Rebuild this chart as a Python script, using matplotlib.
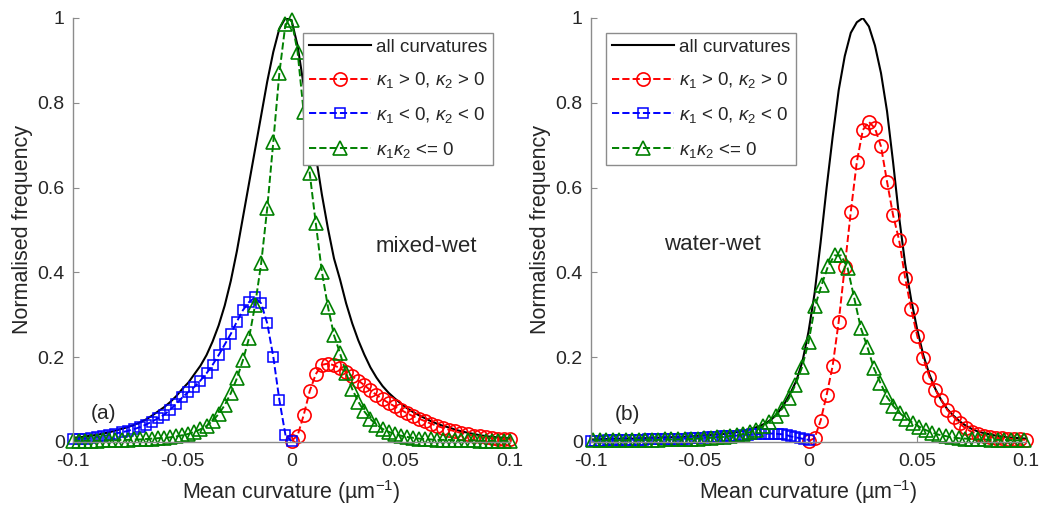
import matplotlib
matplotlib.use('Agg')
import matplotlib.pyplot as plt
import numpy as np

plt.rcParams['font.family'] = ['Liberation Sans', 'DejaVu Sans']
plt.rcParams['mathtext.fontset'] = 'custom'
plt.rcParams['mathtext.rm'] = 'Liberation Sans'
plt.rcParams['mathtext.it'] = 'Liberation Sans:italic'
plt.rcParams['font.size'] = 13.5

# ---- bin centres of the curvature histograms (um^-1) ----
curv = np.linspace(-0.1, 0.1, 73)
curv_pos = curv[36:]
curv_neg = curv[:37]
curv_mix_b = np.linspace(-0.099, 0.099, 67)
curv_neg_b = np.linspace(-0.1, 0.0, 51)

# ---- (a) mixed-wet ----
a_all = [0.010, 0.011, 0.013, 0.015, 0.017, 0.020, 0.023, 0.027, 0.031, 0.035, 0.040,
         0.046, 0.053, 0.062, 0.072, 0.082, 0.094, 0.108, 0.125, 0.140, 0.160, 0.180,
         0.205, 0.237, 0.275, 0.322, 0.380, 0.450, 0.530, 0.610, 0.690, 0.770, 0.850, 0.920, 0.975, 1.0, 0.995,
         0.935, 0.842, 0.754, 0.676, 0.584, 0.504, 0.433, 0.383, 0.327, 0.280, 0.240, 0.206, 0.176, 0.152,
         0.132, 0.116, 0.103, 0.091, 0.080, 0.071, 0.063, 0.056, 0.049, 0.043, 0.038, 0.034, 0.029, 0.025,
         0.022, 0.019, 0.016, 0.014, 0.012, 0.011, 0.010, 0.009]
a_pos = [0.003, 0.015, 0.063, 0.12, 0.16, 0.182, 0.185, 0.181, 0.174, 0.165, 0.155, 0.145, 0.134, 0.122,
         0.111, 0.101, 0.092, 0.084, 0.076, 0.068, 0.061, 0.055, 0.049, 0.043, 0.038, 0.033, 0.029, 0.025,
         0.021, 0.018, 0.015, 0.013, 0.011, 0.009, 0.008, 0.007, 0.006]
a_neg = [0.006, 0.007, 0.008, 0.010, 0.012, 0.014, 0.017, 0.020, 0.023, 0.026, 0.030,
         0.035, 0.041, 0.048, 0.056, 0.064, 0.076, 0.090, 0.105, 0.118, 0.130, 0.145,
         0.162, 0.182, 0.205, 0.230, 0.255, 0.284, 0.311, 0.330, 0.341, 0.327, 0.280, 0.201, 0.099, 0.017, 0.002]
a_mix = [0.003, 0.003, 0.003, 0.003, 0.003, 0.004, 0.004, 0.004, 0.005, 0.005, 0.006,
         0.006, 0.007, 0.008, 0.009, 0.010, 0.011, 0.013, 0.016, 0.019, 0.024, 0.030,
         0.038, 0.050, 0.066, 0.087, 0.115, 0.150, 0.193, 0.245, 0.323, 0.421, 0.551, 0.708, 0.870, 0.985,
         0.995,
         0.92, 0.779, 0.634, 0.516, 0.402, 0.319, 0.252, 0.209, 0.162, 0.125, 0.095, 0.072, 0.054, 0.041,
         0.031, 0.024, 0.019, 0.015, 0.012, 0.010, 0.008, 0.007, 0.006, 0.005, 0.005, 0.005, 0.004, 0.004,
         0.004, 0.004, 0.003, 0.003, 0.003, 0.003, 0.003, 0.003]

# ---- (b) water-wet ----
b_all = [0.006, 0.006, 0.007, 0.007, 0.007, 0.008, 0.008, 0.008, 0.009, 0.009, 0.010,
         0.010, 0.011, 0.011, 0.012, 0.012, 0.013, 0.014, 0.015, 0.016, 0.017, 0.018,
         0.019, 0.021, 0.023, 0.026, 0.029, 0.033, 0.038, 0.045,
         0.055, 0.07, 0.09, 0.115, 0.145, 0.19, 0.26,
         0.35, 0.47, 0.60, 0.72, 0.83, 0.91, 0.965, 0.99, 1.0,
         0.98, 0.935, 0.87, 0.78, 0.66, 0.53, 0.42, 0.335, 0.265, 0.205,
         0.16, 0.125, 0.098, 0.077, 0.062, 0.049, 0.039, 0.031, 0.025, 0.021, 0.018, 0.015, 0.013,
         0.011, 0.010, 0.009, 0.008]
b_pos = [0.002, 0.009, 0.05, 0.111, 0.18, 0.284, 0.413, 0.543, 0.661, 0.736, 0.755, 0.740, 0.697,
         0.614, 0.535, 0.476, 0.387, 0.313, 0.25, 0.197, 0.154, 0.123, 0.099, 0.075, 0.06, 0.044,
         0.032, 0.024, 0.019, 0.015, 0.012, 0.010, 0.009, 0.008, 0.007, 0.006, 0.005]
b_neg = [0.003, 0.003, 0.003, 0.003, 0.004, 0.004, 0.004, 0.004, 0.004, 0.005, 0.005,
         0.005, 0.005, 0.006, 0.006, 0.006, 0.006, 0.007, 0.007, 0.007, 0.008,
         0.008, 0.008, 0.009, 0.009, 0.010, 0.010, 0.011, 0.011, 0.012, 0.013,
         0.013, 0.014, 0.015, 0.015, 0.016, 0.017, 0.018, 0.018, 0.019, 0.019,
         0.020, 0.020, 0.019, 0.018, 0.016, 0.013, 0.011, 0.009, 0.007, 0.005]
b_mix = [0.004, 0.004, 0.004, 0.004, 0.004, 0.004, 0.005, 0.005, 0.005, 0.005, 0.005,
         0.006, 0.006, 0.006, 0.007, 0.007, 0.008, 0.009, 0.010, 0.011, 0.012,
         0.014, 0.016, 0.019, 0.023, 0.029, 0.037, 0.048, 0.062, 0.079, 0.103,
         0.135, 0.176, 0.235, 0.32, 0.37, 0.415, 0.44, 0.44, 0.41, 0.34,
         0.27, 0.225, 0.175, 0.14, 0.107, 0.085, 0.068, 0.055, 0.045, 0.036,
         0.028, 0.022, 0.017, 0.014, 0.011, 0.009, 0.008, 0.007, 0.006, 0.006,
         0.005, 0.005, 0.005, 0.004, 0.004, 0.004]

labels = ['all curvatures',
          r'$\kappa_1$ > 0, $\kappa_2$ > 0',
          r'$\kappa_1$ < 0, $\kappa_2$ < 0',
          r'$\kappa_1\kappa_2$ <= 0']
xticks = [-0.1, -0.05, 0, 0.05, 0.1]
xticklabels = ['-0.1', '-0.05', '0', '0.05', '0.1']
yticks = [0, 0.2, 0.4, 0.6, 0.8, 1]
yticklabels = ['0', '0.2', '0.4', '0.6', '0.8', '1']

GREY = '#8c8c8c'
TXT = '#262626'


def panel(ax, x_all, y_all, x_pos, y_pos, x_neg, y_neg, x_mix, y_mix):
    ax.plot(x_all, y_all, '-', color='black', lw=1.5, label=labels[0])
    ax.plot(x_pos, y_pos, '--', color='red', lw=1.4, marker='o', ms=9.5,
            mfc='none', mew=1.2, label=labels[1], clip_on=False)
    ax.plot(x_neg, y_neg, '--', color='blue', lw=1.4, marker='s', ms=7,
            mfc='none', mew=1.1, label=labels[2], clip_on=False)
    ax.plot(x_mix, y_mix, '--', color='green', lw=1.4, marker='^', ms=9.5,
            mfc='none', mew=1.2, label=labels[3], clip_on=False)
    ax.set_xlim(-0.1, 0.1)
    ax.set_ylim(0, 1)
    ax.set_xticks(xticks)
    ax.set_xticklabels(xticklabels)
    ax.set_yticks(yticks)
    ax.set_yticklabels(yticklabels)
    ax.spines['top'].set_visible(False)
    ax.spines['right'].set_visible(False)
    for s in ['left', 'bottom']:
        ax.spines[s].set_color(GREY)
        ax.spines[s].set_linewidth(1.0)
    ax.tick_params(axis='both', direction='in', length=4, color=GREY,
                   labelcolor=TXT, labelsize=14)
    ax.tick_params(axis='x', pad=8)
    ax.tick_params(axis='y', pad=6)
    ax.set_xlabel('Mean curvature (µm$^{-1}$)', color=TXT, fontsize=15.5, labelpad=6)
    ax.set_ylabel('Normalised frequency', color=TXT, fontsize=15.5, labelpad=3)


fig = plt.figure(figsize=(10.39, 5.09), dpi=100)
ax1 = fig.add_axes([73 / 1039, 67 / 509, 437 / 1039, 424 / 509])
ax2 = fig.add_axes([591 / 1039, 67 / 509, 435 / 1039, 424 / 509])

panel(ax1, curv, a_all, curv_pos, a_pos, curv_neg, a_neg, curv, a_mix)
panel(ax2, curv, b_all, curv_pos, b_pos, curv_neg_b, b_neg, curv_mix_b, b_mix)

leg_kw = dict(fontsize=13.5, handlelength=3.3, handletextpad=0.3, labelspacing=0.78,
              borderpad=0.3, borderaxespad=0, numpoints=1, fancybox=False,
              edgecolor=GREY, framealpha=1)
leg1 = ax1.legend(loc='upper right', bbox_to_anchor=(1 - 17 / 437, 1 - 15 / 424), **leg_kw)
leg2 = ax2.legend(loc='upper left', bbox_to_anchor=(15 / 435, 1 - 15 / 424), **leg_kw)
for leg in [leg1, leg2]:
    leg.get_frame().set_linewidth(1.0)
    for t in leg.get_texts():
        t.set_color(TXT)

ax1.text(0.0385, 0.462, 'mixed-wet', fontsize=16, color=TXT, va='center')
ax2.text(-0.0663, 0.465, 'water-wet', fontsize=16, color=TXT, va='center')
ax1.text(-0.092, 0.068, '(a)', fontsize=15, color=TXT, va='center')
ax2.text(-0.0893, 0.066, '(b)', fontsize=15, color=TXT, va='center')

fig.savefig('out.png', dpi=100)
